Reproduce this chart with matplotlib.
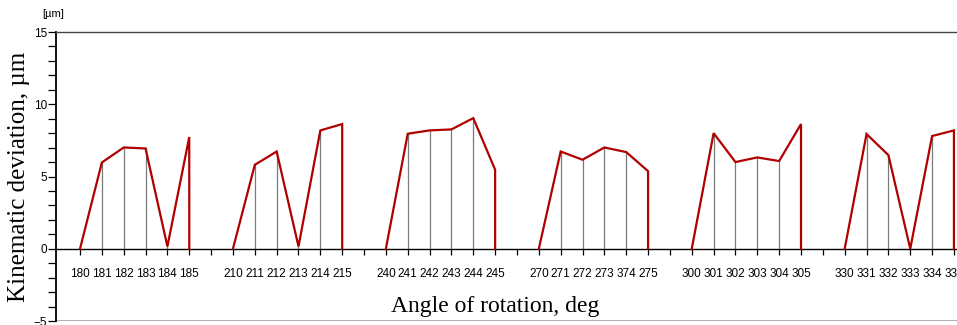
import matplotlib.pyplot as plt
from matplotlib.ticker import MultipleLocator, FixedLocator
import numpy as np

groups = [
    ['180', '181', '182', '183', '184', '185'],
    ['210', '211', '212', '213', '214', '215'],
    ['240', '241', '242', '243', '244', '245'],
    ['270', '271', '272', '273', '374', '275'],
    ['300', '301', '302', '303', '304', '305'],
    ['330', '331', '332', '333', '334', '335'],
]
values = [
    [0.0, 5.97, 7.01, 6.94, 0.16, 7.73],
    [0.0, 5.81, 6.73, 0.16, 8.19, 8.63],
    [0.0, 7.96, 8.19, 8.26, 9.04, 5.47],
    [0.0, 6.73, 6.16, 7.01, 6.69, 5.37],
    [0.0, 8.00, 6.00, 6.32, 6.07, 8.63],
    [0.0, 7.94, 6.48, 0.0, 7.80, 8.19],
]
slot = 7  # 6 angles + one empty slot per group

tick_font = ['Liberation Sans', 'DejaVu Sans']
serif_font = ['Liberation Serif', 'DejaVu Serif']

fig = plt.figure(figsize=(9.57, 3.25), dpi=100)
ax = fig.add_axes([0.0585, 0.0123, 0.9415, 0.8892])
ax.set_xlim(-1.1, 40.14)
ax.set_ylim(-5, 15)

red = '#b00000'
positions = []
labels = []
for g, (names, vals) in enumerate(zip(groups, values)):
    xs = np.arange(6) + g * slot
    # grey droplines
    for x, v in zip(xs[1:-1], vals[1:-1]):
        ax.plot([x, x], [0, v], color='#7a7a7a', lw=0.9, zorder=2)
    # red profile, closed down to zero at the last angle
    ax.plot(list(xs) + [xs[-1]], list(vals) + [0], color=red, lw=1.6,
            solid_joinstyle='miter', zorder=3)
    positions += list(xs) + [xs[-1] + 1]
    labels += names + ['']

ax.spines['bottom'].set_position(('data', 0))
ax.spines['bottom'].set_linewidth(1.0)
ax.spines['right'].set_visible(False)
ax.spines['top'].set_color('#444444')
ax.spines['top'].set_linewidth(1.0)
ax.spines['left'].set_linewidth(1.3)
ax.axhline(-5, color='#a8a8a8', lw=2.0, zorder=1)

ax.xaxis.set_major_locator(FixedLocator(positions))
ax.set_xticklabels(labels, fontfamily=tick_font, fontsize=8.5)
ax.tick_params(axis='x', direction='out', length=4, width=0.9, pad=10)

ax.yaxis.set_major_locator(MultipleLocator(5))
ax.yaxis.set_minor_locator(MultipleLocator(1))
ax.tick_params(axis='y', which='both', direction='out', length=5.5, width=0.9, pad=1)
for lab in ax.get_yticklabels():
    lab.set_fontfamily(tick_font)
    lab.set_fontsize(8.5)

ax.text(-0.75, 15.9, '[µm]', fontfamily=tick_font, fontsize=8, ha='right', va='bottom')

ax.set_ylabel('Kinematic deviation, µm', fontfamily=serif_font, fontsize=18)
ax.yaxis.set_label_coords(-0.029, 0.5)
ax.set_xlabel('Angle of rotation, deg', fontfamily=serif_font, fontsize=17, va='baseline')
ax.xaxis.set_label_coords(0.488, 0.031)

plt.savefig('out.png')
